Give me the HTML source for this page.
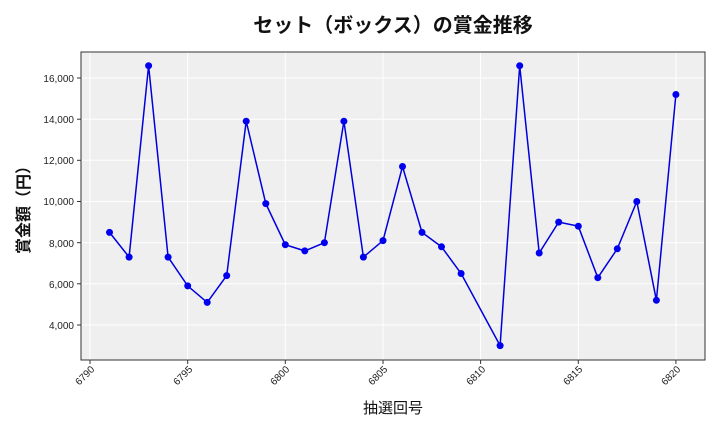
<!DOCTYPE html><html><head><meta charset="utf-8"><style>body{margin:0;background:#fff}svg{display:block;font-family:"Liberation Sans","Noto Sans CJK JP",sans-serif}</style></head><body>
<svg width="720" height="432" xmlns="http://www.w3.org/2000/svg">
<rect x="81" y="52" width="624" height="308" fill="#efefef"/>
<g stroke="#fff" stroke-width="1">
<line x1="90" y1="52" x2="90" y2="360"/><line x1="187.7" y1="52" x2="187.7" y2="360"/><line x1="285.3" y1="52" x2="285.3" y2="360"/><line x1="383" y1="52" x2="383" y2="360"/><line x1="480.6" y1="52" x2="480.6" y2="360"/><line x1="578.3" y1="52" x2="578.3" y2="360"/><line x1="675.9" y1="52" x2="675.9" y2="360"/>
<line x1="81" y1="325" x2="705" y2="325"/><line x1="81" y1="283.8" x2="705" y2="283.8"/><line x1="81" y1="242.7" x2="705" y2="242.7"/><line x1="81" y1="201.5" x2="705" y2="201.5"/><line x1="81" y1="160.3" x2="705" y2="160.3"/><line x1="81" y1="119.2" x2="705" y2="119.2"/><line x1="81" y1="78" x2="705" y2="78"/>
</g>
<rect x="81" y="52" width="624" height="308" fill="none" stroke="#333" stroke-width="1"/>
<g stroke="#333" stroke-width="1">
<line x1="77" y1="325" x2="81" y2="325"/><line x1="77" y1="283.8" x2="81" y2="283.8"/><line x1="77" y1="242.7" x2="81" y2="242.7"/><line x1="77" y1="201.5" x2="81" y2="201.5"/><line x1="77" y1="160.3" x2="81" y2="160.3"/><line x1="77" y1="119.2" x2="81" y2="119.2"/><line x1="77" y1="78" x2="81" y2="78"/>
<line x1="90" y1="360" x2="90" y2="364"/><line x1="187.7" y1="360" x2="187.7" y2="364"/><line x1="285.3" y1="360" x2="285.3" y2="364"/><line x1="383" y1="360" x2="383" y2="364"/><line x1="480.6" y1="360" x2="480.6" y2="364"/><line x1="578.3" y1="360" x2="578.3" y2="364"/><line x1="675.9" y1="360" x2="675.9" y2="364"/></g>
<g font-size="10" fill="#222" text-anchor="end">
<text x="74" y="329">4,000</text><text x="74" y="288">6,000</text><text x="74" y="247">8,000</text><text x="74" y="205">10,000</text><text x="74" y="164">12,000</text><text x="74" y="123">14,000</text><text x="74" y="82">16,000</text>
<text transform="translate(95,370) rotate(-45)">6790</text><text transform="translate(193,370) rotate(-45)">6795</text><text transform="translate(290,370) rotate(-45)">6800</text><text transform="translate(388,370) rotate(-45)">6805</text><text transform="translate(486,370) rotate(-45)">6810</text><text transform="translate(583,370) rotate(-45)">6815</text><text transform="translate(681,370) rotate(-45)">6820</text>
</g>
<text x="393" y="32" font-size="20" font-weight="bold" text-anchor="middle" fill="#111">セット（ボックス）の賞金推移</text>
<text x="393" y="413" font-size="15" text-anchor="middle" fill="#111">抽選回号</text>
<text transform="translate(29,206) rotate(-90)" font-size="16" font-weight="bold" text-anchor="middle" fill="#111">賞金額（円）</text>
<polyline fill="none" stroke="#0000dd" stroke-width="1.5" points="109.5,232.4 129.1,257.1 148.6,65.7 168.1,257.1 187.7,285.9 207.2,302.4 226.7,275.6 246.2,121.2 265.8,203.6 285.3,244.7 304.8,250.9 324.4,242.7 343.9,121.2 363.4,257.1 383,240.6 402.5,166.5 422,232.4 441.5,246.8 461.1,273.5 500.1,345.6 519.7,65.7 539.2,253 558.7,222.1 578.3,226.2 597.8,277.7 617.3,248.8 636.8,201.5 656.4,300.3 675.9,94.5"/>
<g fill="#0000ee">
<circle cx="109.5" cy="232.4" r="3.5"/><circle cx="129.1" cy="257.1" r="3.5"/><circle cx="148.6" cy="65.7" r="3.5"/><circle cx="168.1" cy="257.1" r="3.5"/><circle cx="187.7" cy="285.9" r="3.5"/><circle cx="207.2" cy="302.4" r="3.5"/><circle cx="226.7" cy="275.6" r="3.5"/><circle cx="246.2" cy="121.2" r="3.5"/><circle cx="265.8" cy="203.6" r="3.5"/><circle cx="285.3" cy="244.7" r="3.5"/><circle cx="304.8" cy="250.9" r="3.5"/><circle cx="324.4" cy="242.7" r="3.5"/><circle cx="343.9" cy="121.2" r="3.5"/><circle cx="363.4" cy="257.1" r="3.5"/><circle cx="383" cy="240.6" r="3.5"/><circle cx="402.5" cy="166.5" r="3.5"/><circle cx="422" cy="232.4" r="3.5"/><circle cx="441.5" cy="246.8" r="3.5"/><circle cx="461.1" cy="273.5" r="3.5"/><circle cx="500.1" cy="345.6" r="3.5"/><circle cx="519.7" cy="65.7" r="3.5"/><circle cx="539.2" cy="253" r="3.5"/><circle cx="558.7" cy="222.1" r="3.5"/><circle cx="578.3" cy="226.2" r="3.5"/><circle cx="597.8" cy="277.7" r="3.5"/><circle cx="617.3" cy="248.8" r="3.5"/><circle cx="636.8" cy="201.5" r="3.5"/><circle cx="656.4" cy="300.3" r="3.5"/><circle cx="675.9" cy="94.5" r="3.5"/>
</g>
</svg></body></html>
